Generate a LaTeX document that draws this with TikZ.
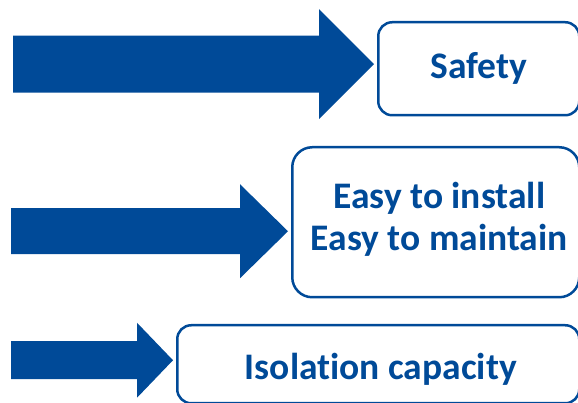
\documentclass[tikz,border=0pt]{standalone}
\usepackage{fontspec}
\setmainfont[Ligatures=CommonOff]{Carlito}
\usetikzlibrary{positioning}
\definecolor{arrowblue}{RGB}{0,74,152}

\begin{document}
\begin{tikzpicture}[x=1pt,y=1pt,
    box/.style={draw=arrowblue,line width=2.5pt,inner sep=0pt,anchor=north west},
    boxtext/.style={text=arrowblue,font=\fontsize{37.5}{42}\selectfont\bfseries,align=center},
    blockarrow/.style={fill=arrowblue}]
    \useasboundingbox (0,0) rectangle (578,403);
    \clip (0,0) rectangle (578,403);
    % the three boxes
    \node[box,rounded corners=14pt,minimum width=201pt,minimum height=93pt,
        label={[boxtext]center:Safety}] (safety) at (377,382) {};
    \node[box,rounded corners=20pt,minimum width=287pt,minimum height=150pt,
        label={[boxtext,xshift=3.5pt,yshift=3pt]center:Easy to install\\Easy to maintain}] (easy) at (291,257) {};
    \node[box,rounded corners=14pt,minimum width=402pt,minimum height=78pt,
        label={[boxtext,xshift=2.5pt,yshift=-5pt]center:Isolation capacity}] (isolation) at (176,79) {};
    % block arrows pointing into the boxes
    \coordinate (tipsafety) at ([shift={(-3,4.5)}]safety.west);
    \coordinate (tipeasy) at ([shift={(-3,-9)}]easy.west);
    \coordinate (tipisolation) at ([shift={(-3,4)}]isolation.west);
    \fill[blockarrow] (tipsafety) -- ++(-55,55) -- ++(0,-26.5) -- ++(-306,0) -- ++(0,-57)
        -- ++(306,0) -- ++(0,-26.5) -- cycle;
    \fill[blockarrow] (tipeasy) -- ++(-48,47) -- ++(0,-24) -- ++(-229,0) -- ++(0,-46)
        -- ++(229,0) -- ++(0,-24) -- cycle;
    \fill[blockarrow] (tipisolation) -- ++(-36,37.5) -- ++(0,-18.5) -- ++(-126,0) -- ++(0,-38)
        -- ++(126,0) -- ++(0,-18.5) -- cycle;
\end{tikzpicture}
\end{document}
